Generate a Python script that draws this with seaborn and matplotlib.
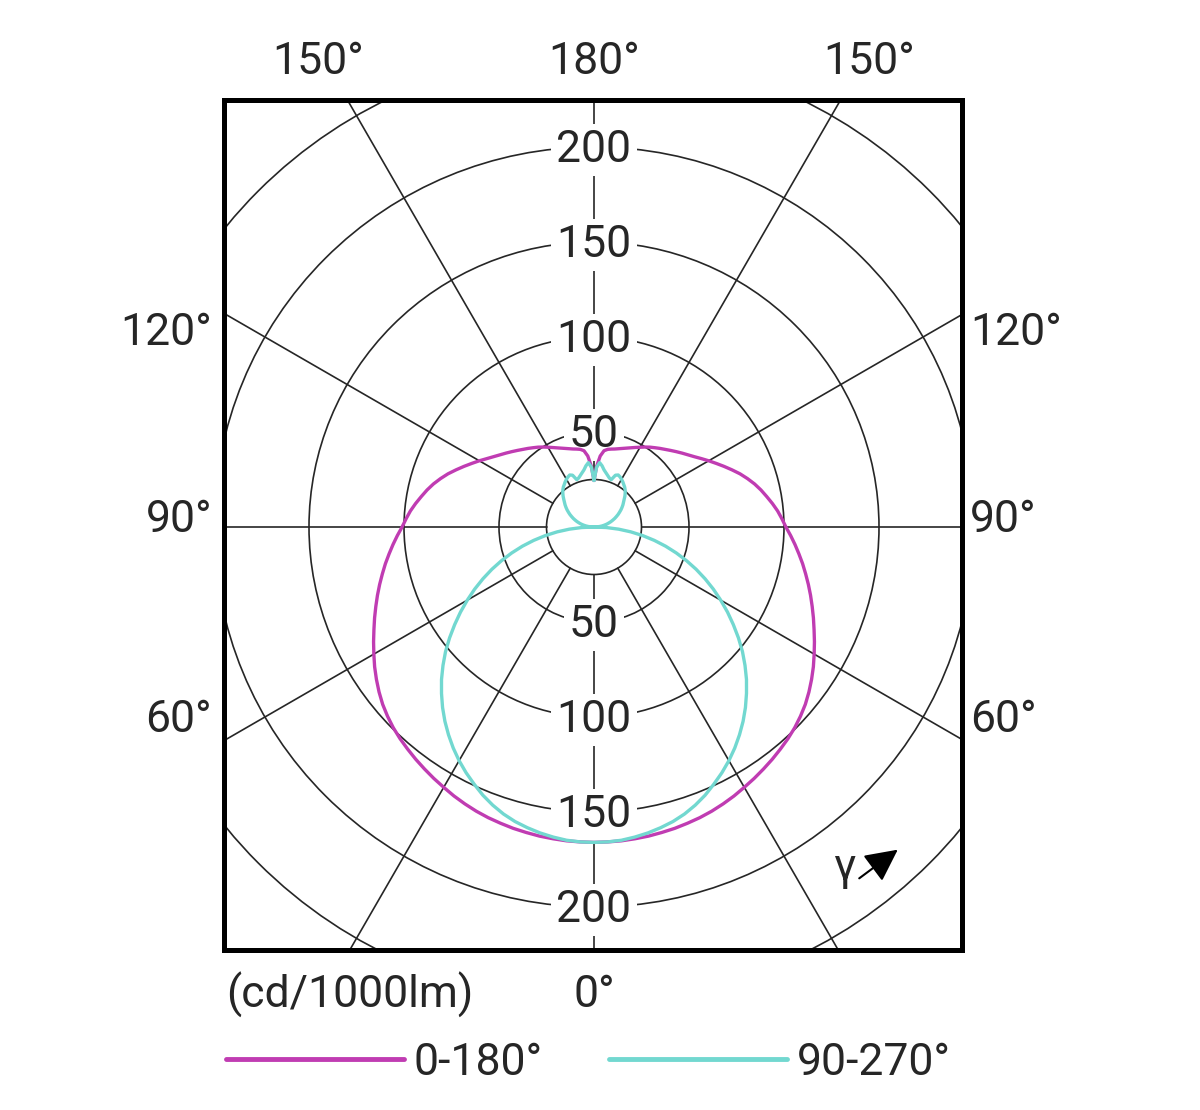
import numpy as np
import pandas as pd
import matplotlib.pyplot as plt
from matplotlib.patches import Circle
import seaborn as sns

# gamma angle (deg), every 2.5 deg from 0 to 180
gamma = [i * 2.5 for i in range(73)]

# luminous intensity (cd/1000lm), same gamma steps
c0_180 = [166, 165.9, 165.8, 165.5, 165.2, 164.7, 164.2, 163.5, 162.8, 161.9,
          160.8, 159.6, 158.2, 156.9, 155.5, 154.1, 152.6, 151.1, 149.4, 147.4,
          145.2, 142.6, 139.8, 136.9, 133.8, 130.8, 127.8, 125, 122.2, 119.5,
          116.8, 114.1, 111.5, 108.8, 106.2, 103.6, 101, 99, 97, 94.7,
          92.3, 90, 87.5, 84.7, 81.8, 78.6, 75.5, 72.5, 69.7, 67,
          64.5, 62.4, 60.5, 58.7, 57, 55.4, 54, 52.6, 51.3, 49.9,
          48.5, 47.2, 46, 45, 44, 43.2, 42.5, 42, 41.5, 40.5,
          37.5, 32, 24.5]
c90_270 = [166, 165.9, 165.5, 164.6, 163.5, 162.1, 160.5, 158.4, 155.8, 152.8,
           149.3, 145.8, 142, 137.9, 133.5, 128.9, 124, 118.8, 113.5, 107.8,
           102, 95.8, 89.5, 83.3, 77, 70.8, 64.5, 58.2, 51.8, 45.4,
           39, 32.5, 26, 19.5, 13, 6.5, 0, 1.5, 3, 4.3,
           5.5, 6.8, 8, 9.3, 10.5, 11.8, 13, 14.3, 15.5, 16.8,
           18, 19.2, 20.3, 21.6, 23, 24.3, 25.5, 26.5, 27.3, 28.2,
           29, 29.7, 30.2, 29.5, 26.5, 27, 28, 29.2, 30.5, 32.5,
           34, 31.5, 24.5]

planes = ["0-180°", "90-270°"]
plane_colors = ["#c03cb2", "#72d8d0"]

ring_values = [25, 50, 100, 150, 200, 250]
ring_labels = [50, 100, 150, 200]
spoke_angles = [30, 60, 90, 120, 150]

FIG_W, FIG_H = 1200, 1110
CX, CY = 594, 527          # pole position in pixels
PX_PER_CD = 1.9
FONT = 32
GRID = "#262626"


def to_xy(values):
    """Both halves of a C-plane as one closed outline (left 180->0, right 0->180)."""
    g = np.radians(gamma)
    r = np.asarray(values, dtype=float)
    x = np.concatenate([-(r * np.sin(g))[::-1], r * np.sin(g)])
    y = np.concatenate([-(r * np.cos(g))[::-1], -r * np.cos(g)])
    return x, y


def fig_text(fig, x, y, s, **kw):
    fig.text(x / FIG_W, 1 - y / FIG_H, s, fontsize=FONT, **kw)


def main():
    assert len(c0_180) == len(gamma) == len(c90_270)
    sns.set_style("white")
    plt.rcParams["font.family"] = ["Roboto", "DejaVu Sans"]

    rows = []
    for plane, vals in zip(planes, [c0_180, c90_270]):
        x, y = to_xy(vals)
        rows.append(pd.DataFrame({"x": x, "y": y, "plane": plane}))
    df = pd.concat(rows, ignore_index=True)

    fig = plt.figure(figsize=(FIG_W / 100, FIG_H / 100), dpi=100)
    left, right, top, bottom = 224, 962, 100, 950
    ax = fig.add_axes([left / FIG_W, 1 - bottom / FIG_H,
                       (right - left) / FIG_W, (bottom - top) / FIG_H])

    # polar grid: rings, spokes and the vertical axis
    for r in ring_values:
        ax.add_patch(Circle((0, 0), r, fill=False, ec=GRID, lw=1.2, zorder=1))
    for a in spoke_angles:
        t = np.radians(a)
        for s in (-1, 1):
            ax.plot([s * 25 * np.sin(t), s * 320 * np.sin(t)],
                    [-25 * np.cos(t), -320 * np.cos(t)], color=GRID, lw=1.2, zorder=1)
    for s in (-1, 1):
        ax.plot([0, 0], [s * 25, s * 320], color=GRID, lw=1.2, zorder=1)

    for v in ring_labels:
        for s in (-1, 1):
            ax.text(0, s * v - 1.5, str(v), ha="center", va="center", fontsize=FONT,
                    zorder=3, bbox=dict(boxstyle="square,pad=0.12", fc="white", ec="none"))

    sns.lineplot(data=df, x="x", y="y", hue="plane", hue_order=planes,
                 palette=dict(zip(planes, plane_colors)), sort=False, estimator=None,
                 lw=2.4, ax=ax, zorder=5)

    ax.set_xlim((left - CX) / PX_PER_CD, (right - CX) / PX_PER_CD)
    ax.set_ylim((CY - bottom) / PX_PER_CD, (CY - top) / PX_PER_CD)
    ax.set_xticks([])
    ax.set_yticks([])
    ax.set_xlabel("")
    ax.set_ylabel("")
    for sp in ax.spines.values():
        sp.set_visible(True)
        sp.set_linewidth(3.6)
        sp.set_color("black")
        sp.set_zorder(10)

    # gamma arrow
    def d(px, py):
        return ((px - CX) / PX_PER_CD, (CY - py) / PX_PER_CD)

    ax.text(*d(845, 868), "γ", ha="center", va="center", fontsize=32, zorder=6)
    ax.annotate("", xy=d(900, 848), xytext=d(857, 880),
                arrowprops=dict(arrowstyle="-|>,head_length=1.0,head_width=0.5",
                                color="black", lw=1.5, mutation_scale=20), zorder=6)

    # angle labels round the frame
    fig_text(fig, 318, 62, "150°", ha="center", va="center")
    fig_text(fig, 594, 62, "180°", ha="center", va="center")
    fig_text(fig, 869, 62, "150°", ha="center", va="center")
    for lab, yy in [("120°", 333), ("90°", 520), ("60°", 720)]:
        fig_text(fig, 212, yy, lab, ha="right", va="center")
        fig_text(fig, 970, yy, lab, ha="left", va="center")
    fig_text(fig, 594, 995, "0°", ha="center", va="center")
    fig_text(fig, 226, 995, "(cd/1000lm)", ha="left", va="center")

    handles, labels = ax.get_legend_handles_labels()
    if ax.get_legend() is not None:
        ax.get_legend().remove()
    leg = fig.legend(handles, labels, loc="center left",
                     bbox_to_anchor=(226 / FIG_W, 1 - 1063 / FIG_H), ncol=2, frameon=False,
                     fontsize=FONT, handlelength=4.0, handletextpad=0.22,
                     columnspacing=1.5, borderpad=0, borderaxespad=0)
    for ln in leg.get_lines():
        ln.set_linewidth(3.5)

    fig.savefig("out.png", dpi=100)


if __name__ == "__main__":
    main()
